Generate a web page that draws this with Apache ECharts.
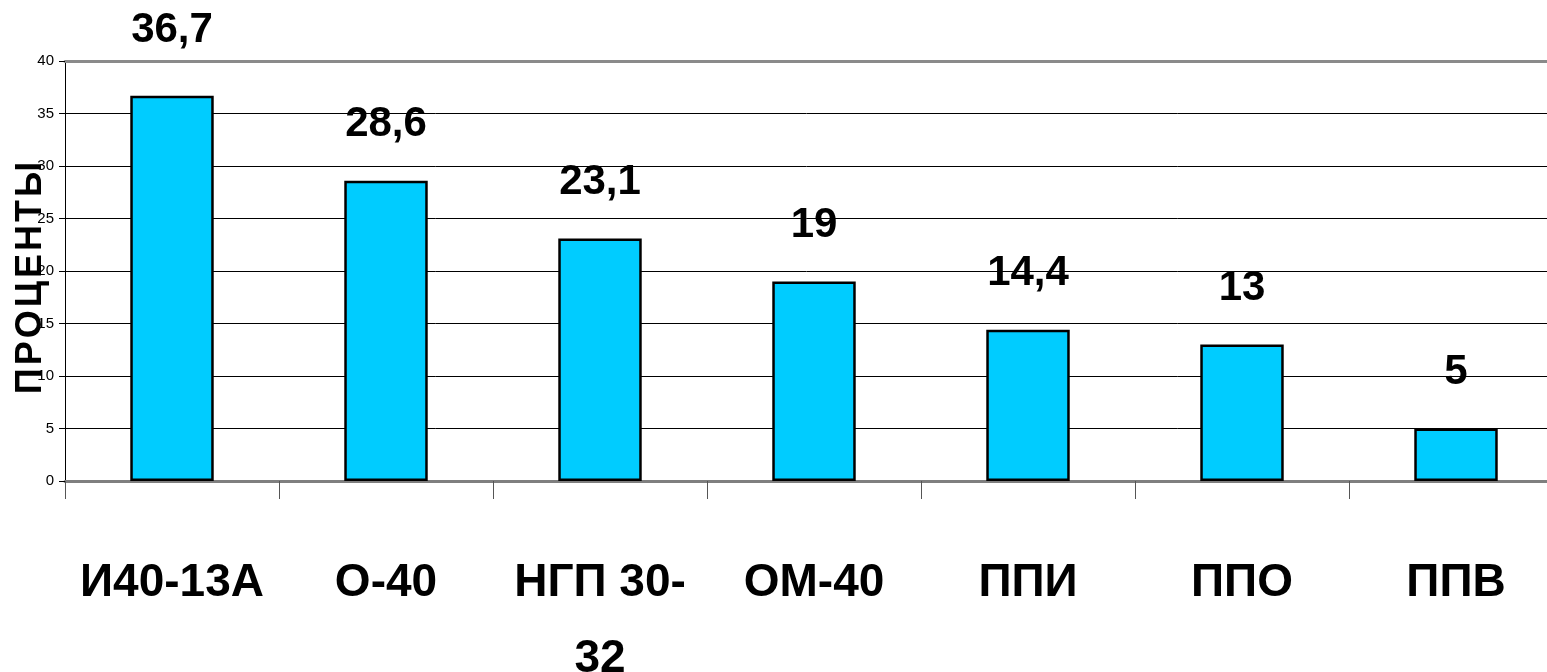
<!DOCTYPE html>
<html>
<head>
<meta charset="utf-8">
<script src="https://cdn.jsdelivr.net/npm/echarts@6/dist/echarts.min.js"></script>
<style>
  html, body { margin: 0; padding: 0; background: #fff; }
  #chart { width: 1547px; height: 672px; }
</style>
</head>
<body>
<div id="chart"></div>
<script>
// Доля по маркам масел, %
const categories = ['И40-13А', 'О-40', 'НГП 30-\n32', 'ОМ-40', 'ППИ', 'ППО', 'ППВ'];
const values = [36.7, 28.6, 23.1, 19, 14.4, 13, 5];
const valueLabels = ['36,7', '28,6', '23,1', '19', '14,4', '13', '5'];
const yTicks = { min: 0, max: 40, step: 5 };
const yTitle = 'ПРОЦЕНТЫ';

const FONT = '"Liberation Sans Narrow", "Arial Narrow", "Liberation Sans", Arial, sans-serif';

const chart = echarts.init(document.getElementById('chart'), null, { renderer: 'canvas' });

const seriesData = values.map((v, i) => ({
  value: v,
  label: { formatter: valueLabels[i], distance: i === 0 ? 44 : 35 }
}));

// разрядка букв в подписи оси
const spacedTitle = yTitle.split('').join('\u200A');

chart.setOption({
  animation: false,
  backgroundColor: '#ffffff',
  grid: { left: 65, top: 61, right: -16, bottom: 191, containLabel: false, outerBoundsMode: 'none' },
  xAxis: [
    {
      type: 'category',
      data: categories,
      position: 'bottom',
      axisLine: { lineStyle: { color: '#7f7f7f', width: 3 } },
      axisTick: { show: true, length: 18, alignWithLabel: false, lineStyle: { color: '#555', width: 1 } },
      axisLabel: {
        interval: 0,
        margin: 64,
        fontFamily: FONT,
        fontWeight: 'bold',
        fontSize: 46,
        lineHeight: 76,
        color: '#000'
      }
    },
    {
      // верхняя граница области построения
      type: 'category',
      data: categories,
      position: 'top',
      axisLine: { lineStyle: { color: '#8a8a8a', width: 3 } },
      axisTick: { show: false },
      axisLabel: { show: false }
    }
  ],
  yAxis: {
    type: 'value',
    min: yTicks.min,
    max: yTicks.max,
    interval: yTicks.step,
    name: spacedTitle,
    nameLocation: 'middle',
    nameRotate: 90,
    nameGap: 16,
    nameMoveOverlap: false,
    nameTextStyle: {
      fontFamily: FONT,
      fontWeight: 'bold',
      fontSize: 36,
      color: '#000',
      padding: [0, 14, 0, 0]
    },
    axisLine: { show: true, lineStyle: { color: '#000', width: 1 } },
    axisTick: { show: true, length: 6, lineStyle: { color: '#000', width: 1 } },
    axisLabel: {
      margin: 11,
      fontFamily: FONT,
      fontSize: 15,
      color: '#000'
    },
    splitLine: { show: true, lineStyle: { color: '#000', width: 1 } }
  },
  series: [{
    type: 'bar',
    data: seriesData,
    barWidth: '39%',
    itemStyle: { color: '#00CCFF', borderColor: '#000', borderWidth: 2.5 },
    label: {
      show: true,
      position: 'top',
      fontFamily: FONT,
      fontWeight: 'bold',
      fontSize: 42,
      color: '#000'
    }
  }]
});
</script>
</body>
</html>
